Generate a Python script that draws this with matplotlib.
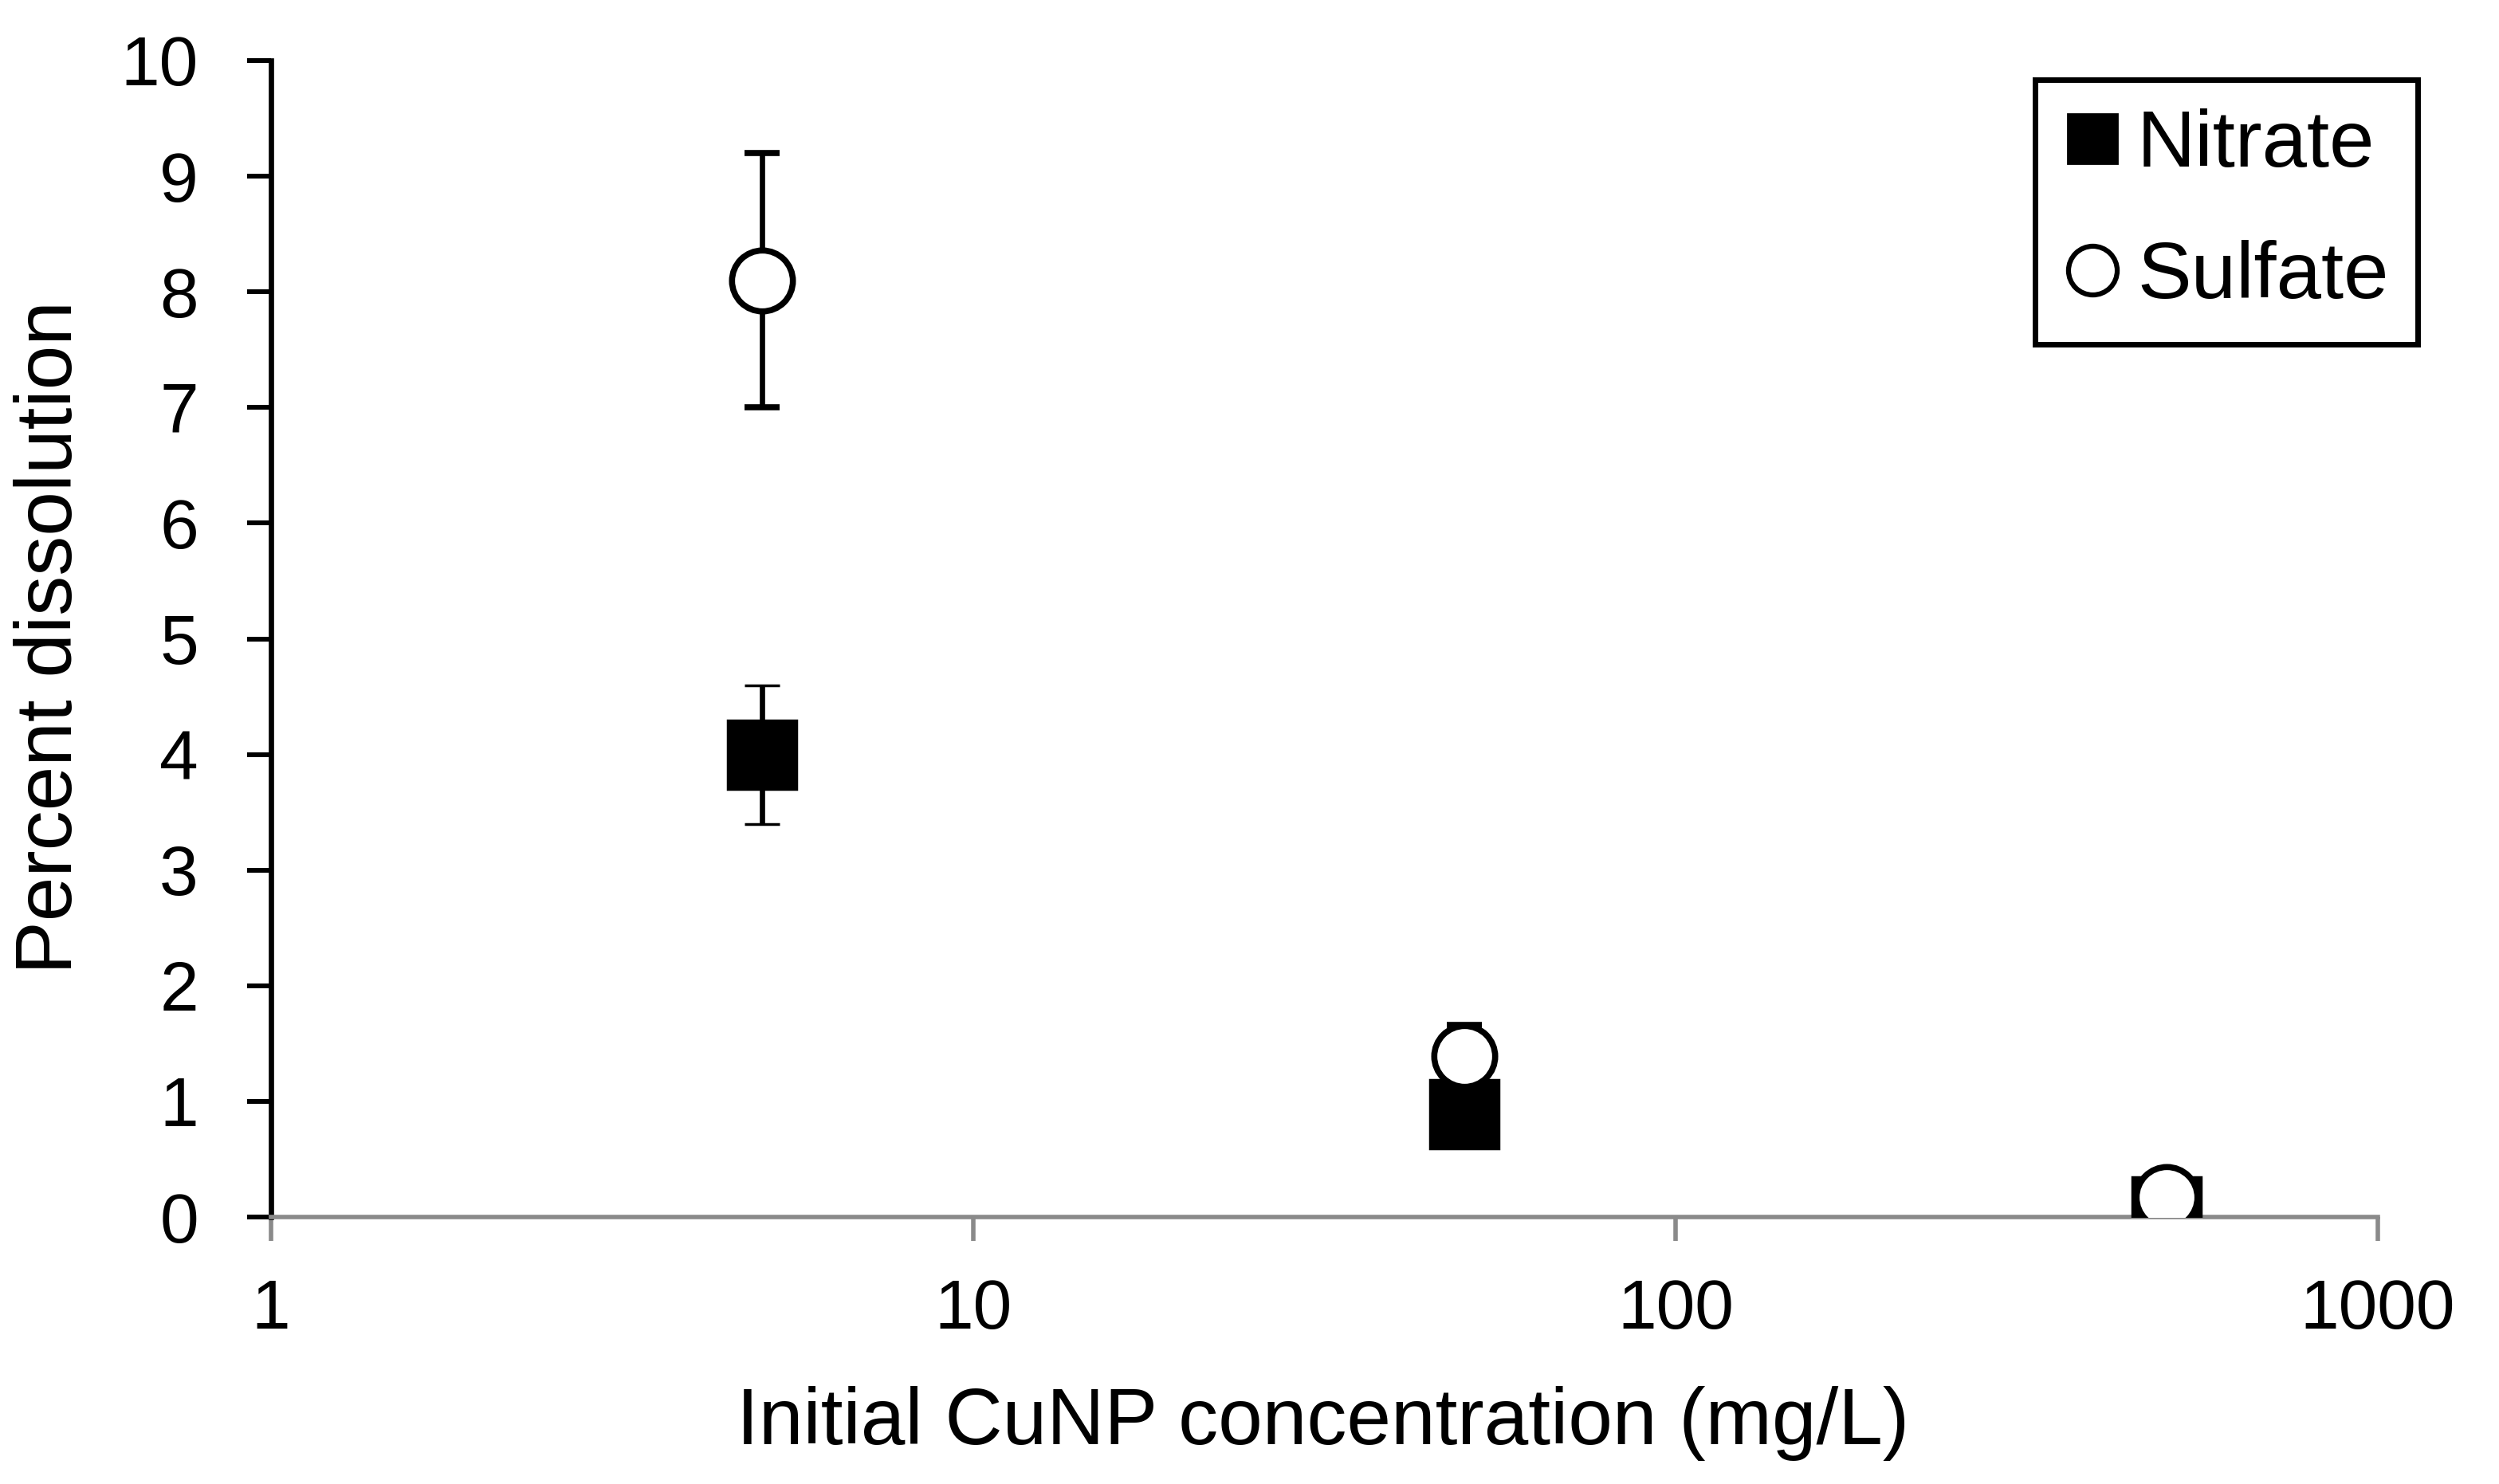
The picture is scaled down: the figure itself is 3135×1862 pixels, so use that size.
import matplotlib
matplotlib.use("Agg")
import matplotlib.pyplot as plt
from matplotlib.lines import Line2D
import numpy as np

# Data
concentrations = [5, 50, 500]
nitrate = [4.0, 0.89, 0.05]
nitrate_err = [0.6, 0.2, 0.05]
sulfate = [8.1, 1.39, 0.17]
sulfate_err = [1.1, 0.27, 0.05]
series_labels = ["Nitrate", "Sulfate"]
x_ticks = [1, 10, 100, 1000]
x_ticklabels = ["1", "10", "100", "1000"]
y_ticks = list(range(0, 11))

plt.rcParams['font.family'] = ['Liberation Sans', 'DejaVu Sans']

W, H = 3135, 1862
fig = plt.figure(figsize=(W / 100, H / 100), dpi=100)
ax = fig.add_axes([340 / W, 1 - 1527 / H, (2983 - 340) / W, (1527 - 76) / H])

ax.errorbar(concentrations, nitrate, yerr=nitrate_err, fmt='s', color='black',
            markersize=62, markeredgewidth=2.5, markerfacecolor='black',
            markeredgecolor='black', ecolor='black', elinewidth=4.8,
            capsize=16, capthick=4.8, zorder=3)
ax.errorbar(concentrations, sulfate, yerr=sulfate_err, fmt='o', color='black',
            markersize=55, markeredgewidth=5.5, markerfacecolor='white',
            markeredgecolor='black', ecolor='black', elinewidth=4.8,
            capsize=16, capthick=4.8, zorder=4)

ax.set_xscale('log')
ax.set_xlim(1, 1000)
ax.set_ylim(0, 10)
ax.set_xticks(x_ticks)
ax.set_xticklabels(x_ticklabels)
ax.xaxis.set_minor_locator(matplotlib.ticker.NullLocator())
ax.set_yticks(y_ticks)
ax.set_yticklabels([str(v) for v in y_ticks])

for s in ['top', 'right']:
    ax.spines[s].set_visible(False)
ax.spines['left'].set_color('black')
ax.spines['left'].set_linewidth(4.8)
ax.spines['bottom'].set_color('#8a8a8a')
ax.spines['bottom'].set_linewidth(4.0)
ax.spines['left'].set_zorder(2)

ax.tick_params(axis='y', direction='out', length=21.6, width=4.3, color='black',
               labelsize=63, pad=44)
ax.tick_params(axis='x', direction='out', length=21.6, width=4.0, color='#8a8a8a',
               labelsize=63, pad=34)

fig.text(1660 / W, 1 - 1786 / H, "Initial CuNP concentration (mg/L)", fontsize=72,
         ha='center', va='center')
fig.text(64 / W, 1 - 800 / H, "Percent dissolution", fontsize=72,
         ha='center', va='center', rotation=90)

handles = [
    Line2D([], [], linestyle='none', marker='s', markersize=44, markerfacecolor='black',
           markeredgecolor='black', markeredgewidth=2),
    Line2D([], [], linestyle='none', marker='o', markersize=44, markerfacecolor='white',
           markeredgecolor='black', markeredgewidth=4.5),
]
leg = ax.legend(handles, series_labels, loc='upper right',
                bbox_to_anchor=(3033 / W, 1 - 100 / H), bbox_transform=fig.transFigure,
                borderaxespad=0, fontsize=73, frameon=True, fancybox=False,
                framealpha=1, edgecolor='black', handlelength=0.7,
                handletextpad=0.2, borderpad=0.36, labelspacing=0.7)
leg.get_frame().set_linewidth(5)

fig.savefig("out.png", dpi=100, facecolor='white')
